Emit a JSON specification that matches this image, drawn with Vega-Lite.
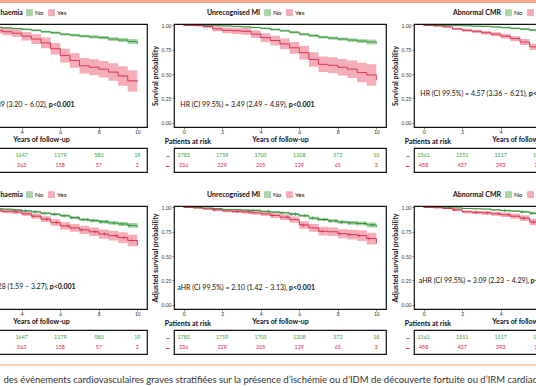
{
"$schema":"https://vega.github.io/schema/vega-lite/v6.json",
"padding":{"left":-67,"top":0,"right":-80,"bottom":0},
"background":"white",
"config":{
 "font":"Lato",
 "view":{"stroke":"#111","strokeWidth":1.2},
 "axis":{"labelFontSize":5,"labelColor":"#333","tickColor":"#333","tickSize":2,"tickWidth":0.6,"domain":false,"grid":false,"labelPadding":1,"labelFlush":false,"titleFontSize":7,"titleFontWeight":"bold","titleColor":"#111","titlePadding":3},
 "axisX":{"labelPadding":0,"titlePadding":1},
 "legend":{"titleFontSize":7,"titleFontWeight":"bold","titleColor":"#111","labelFontSize":6.5,"labelColor":"#111","symbolType":"square","symbolSize":36,"symbolStrokeWidth":0.6,"titlePadding":3,"columnPadding":3,"labelOffset":2,"padding":0},
 "title":{"font":"Lato","color":"#111"}
},
"datasets":{
"km":[
{"p":"L1","g":"No","t":0,"s":1,"lo":1,"hi":1},{"p":"L1","g":"No","t":0.5,"s":0.998,"lo":0.996,"hi":1},{"p":"L1","g":"No","t":1,"s":0.995,"lo":0.992,"hi":0.998},{"p":"L1","g":"No","t":1.5,"s":0.99,"lo":0.986,"hi":0.994},{"p":"L1","g":"No","t":2,"s":0.985,"lo":0.98,"hi":0.99},{"p":"L1","g":"No","t":2.5,"s":0.98,"lo":0.974,"hi":0.986},{"p":"L1","g":"No","t":3,"s":0.975,"lo":0.968,"hi":0.982},{"p":"L1","g":"No","t":3.5,"s":0.968,"lo":0.96,"hi":0.976},{"p":"L1","g":"No","t":4,"s":0.96,"lo":0.951,"hi":0.969},{"p":"L1","g":"No","t":4.5,"s":0.95,"lo":0.94,"hi":0.96},{"p":"L1","g":"No","t":5,"s":0.935,"lo":0.924,"hi":0.946},{"p":"L1","g":"No","t":5.5,"s":0.925,"lo":0.913,"hi":0.937},{"p":"L1","g":"No","t":6,"s":0.91,"lo":0.897,"hi":0.923},{"p":"L1","g":"No","t":6.5,"s":0.9,"lo":0.886,"hi":0.914},{"p":"L1","g":"No","t":7,"s":0.89,"lo":0.875,"hi":0.905},{"p":"L1","g":"No","t":7.5,"s":0.882,"lo":0.866,"hi":0.898},{"p":"L1","g":"No","t":8,"s":0.875,"lo":0.858,"hi":0.892},{"p":"L1","g":"No","t":8.5,"s":0.86,"lo":0.841,"hi":0.879},{"p":"L1","g":"No","t":9,"s":0.85,"lo":0.829,"hi":0.871},{"p":"L1","g":"No","t":9.5,"s":0.835,"lo":0.81,"hi":0.86},{"p":"L1","g":"No","t":10,"s":0.81,"lo":0.78,"hi":0.84},
{"p":"L1","g":"Yes","t":0,"s":1,"lo":1,"hi":1},{"p":"L1","g":"Yes","t":0.5,"s":0.99,"lo":0.98,"hi":1},{"p":"L1","g":"Yes","t":1,"s":0.98,"lo":0.965,"hi":0.995},{"p":"L1","g":"Yes","t":1.5,"s":0.97,"lo":0.945,"hi":0.995},{"p":"L1","g":"Yes","t":2,"s":0.96,"lo":0.93,"hi":0.99},{"p":"L1","g":"Yes","t":2.5,"s":0.95,"lo":0.918,"hi":0.982},{"p":"L1","g":"Yes","t":3,"s":0.935,"lo":0.9,"hi":0.97},{"p":"L1","g":"Yes","t":3.5,"s":0.92,"lo":0.88,"hi":0.96},{"p":"L1","g":"Yes","t":4,"s":0.89,"lo":0.845,"hi":0.935},{"p":"L1","g":"Yes","t":4.5,"s":0.86,"lo":0.81,"hi":0.91},{"p":"L1","g":"Yes","t":5,"s":0.82,"lo":0.765,"hi":0.875},{"p":"L1","g":"Yes","t":5.5,"s":0.76,"lo":0.7,"hi":0.82},{"p":"L1","g":"Yes","t":6,"s":0.69,"lo":0.62,"hi":0.76},{"p":"L1","g":"Yes","t":6.5,"s":0.64,"lo":0.565,"hi":0.715},{"p":"L1","g":"Yes","t":7,"s":0.585,"lo":0.505,"hi":0.665},{"p":"L1","g":"Yes","t":7.5,"s":0.57,"lo":0.488,"hi":0.652},{"p":"L1","g":"Yes","t":8,"s":0.55,"lo":0.465,"hi":0.635},{"p":"L1","g":"Yes","t":8.5,"s":0.52,"lo":0.43,"hi":0.61},{"p":"L1","g":"Yes","t":9,"s":0.48,"lo":0.38,"hi":0.58},{"p":"L1","g":"Yes","t":9.5,"s":0.43,"lo":0.32,"hi":0.54},{"p":"L1","g":"Yes","t":10,"s":0.42,"lo":0.29,"hi":0.55},
{"p":"M1","g":"No","t":0,"s":1,"lo":1,"hi":1},{"p":"M1","g":"No","t":0.5,"s":1,"lo":0.998,"hi":1},{"p":"M1","g":"No","t":1,"s":0.998,"lo":0.995,"hi":1},{"p":"M1","g":"No","t":1.5,"s":0.997,"lo":0.993,"hi":1},{"p":"M1","g":"No","t":2,"s":0.995,"lo":0.99,"hi":1},{"p":"M1","g":"No","t":2.5,"s":0.99,"lo":0.984,"hi":0.996},{"p":"M1","g":"No","t":3,"s":0.985,"lo":0.978,"hi":0.992},{"p":"M1","g":"No","t":3.5,"s":0.978,"lo":0.97,"hi":0.986},{"p":"M1","g":"No","t":4,"s":0.97,"lo":0.961,"hi":0.979},{"p":"M1","g":"No","t":4.5,"s":0.958,"lo":0.948,"hi":0.968},{"p":"M1","g":"No","t":5,"s":0.945,"lo":0.934,"hi":0.956},{"p":"M1","g":"No","t":5.5,"s":0.93,"lo":0.918,"hi":0.942},{"p":"M1","g":"No","t":6,"s":0.91,"lo":0.897,"hi":0.923},{"p":"M1","g":"No","t":6.5,"s":0.895,"lo":0.881,"hi":0.909},{"p":"M1","g":"No","t":7,"s":0.88,"lo":0.865,"hi":0.895},{"p":"M1","g":"No","t":7.5,"s":0.87,"lo":0.854,"hi":0.886},{"p":"M1","g":"No","t":8,"s":0.86,"lo":0.843,"hi":0.877},{"p":"M1","g":"No","t":8.5,"s":0.85,"lo":0.831,"hi":0.869},{"p":"M1","g":"No","t":9,"s":0.84,"lo":0.819,"hi":0.861},{"p":"M1","g":"No","t":9.5,"s":0.83,"lo":0.805,"hi":0.855},{"p":"M1","g":"No","t":10,"s":0.815,"lo":0.785,"hi":0.845},
{"p":"M1","g":"Yes","t":0,"s":1,"lo":1,"hi":1},{"p":"M1","g":"Yes","t":0.5,"s":1,"lo":0.99,"hi":1},{"p":"M1","g":"Yes","t":1,"s":0.99,"lo":0.975,"hi":1},{"p":"M1","g":"Yes","t":1.5,"s":0.965,"lo":0.94,"hi":0.99},{"p":"M1","g":"Yes","t":2,"s":0.95,"lo":0.92,"hi":0.98},{"p":"M1","g":"Yes","t":2.5,"s":0.945,"lo":0.913,"hi":0.977},{"p":"M1","g":"Yes","t":3,"s":0.94,"lo":0.905,"hi":0.975},{"p":"M1","g":"Yes","t":3.5,"s":0.91,"lo":0.87,"hi":0.95},{"p":"M1","g":"Yes","t":4,"s":0.875,"lo":0.83,"hi":0.92},{"p":"M1","g":"Yes","t":4.5,"s":0.845,"lo":0.795,"hi":0.895},{"p":"M1","g":"Yes","t":5,"s":0.81,"lo":0.755,"hi":0.865},{"p":"M1","g":"Yes","t":5.5,"s":0.77,"lo":0.71,"hi":0.83},{"p":"M1","g":"Yes","t":6,"s":0.72,"lo":0.65,"hi":0.79},{"p":"M1","g":"Yes","t":6.5,"s":0.65,"lo":0.575,"hi":0.725},{"p":"M1","g":"Yes","t":7,"s":0.6,"lo":0.52,"hi":0.68},{"p":"M1","g":"Yes","t":7.5,"s":0.59,"lo":0.508,"hi":0.672},{"p":"M1","g":"Yes","t":8,"s":0.57,"lo":0.485,"hi":0.655},{"p":"M1","g":"Yes","t":8.5,"s":0.55,"lo":0.46,"hi":0.64},{"p":"M1","g":"Yes","t":9,"s":0.515,"lo":0.415,"hi":0.615},{"p":"M1","g":"Yes","t":9.5,"s":0.49,"lo":0.38,"hi":0.6},{"p":"M1","g":"Yes","t":10,"s":0.44,"lo":0.31,"hi":0.6},
{"p":"R1","g":"No","t":0,"s":1,"lo":1,"hi":1},{"p":"R1","g":"No","t":0.5,"s":1,"lo":0.998,"hi":1},{"p":"R1","g":"No","t":1,"s":1,"lo":0.997,"hi":1},{"p":"R1","g":"No","t":1.5,"s":0.998,"lo":0.994,"hi":1},{"p":"R1","g":"No","t":2,"s":0.996,"lo":0.991,"hi":1},{"p":"R1","g":"No","t":2.5,"s":0.993,"lo":0.987,"hi":0.999},{"p":"R1","g":"No","t":3,"s":0.99,"lo":0.983,"hi":0.997},{"p":"R1","g":"No","t":3.5,"s":0.985,"lo":0.977,"hi":0.993},{"p":"R1","g":"No","t":4,"s":0.978,"lo":0.969,"hi":0.987},{"p":"R1","g":"No","t":4.5,"s":0.97,"lo":0.96,"hi":0.98},{"p":"R1","g":"No","t":5,"s":0.962,"lo":0.951,"hi":0.973},{"p":"R1","g":"No","t":5.5,"s":0.952,"lo":0.94,"hi":0.964},{"p":"R1","g":"No","t":6,"s":0.94,"lo":0.927,"hi":0.953},{"p":"R1","g":"No","t":6.5,"s":0.93,"lo":0.916,"hi":0.944},{"p":"R1","g":"No","t":7,"s":0.92,"lo":0.905,"hi":0.935},{"p":"R1","g":"No","t":7.5,"s":0.91,"lo":0.894,"hi":0.926},{"p":"R1","g":"No","t":8,"s":0.9,"lo":0.883,"hi":0.917},{"p":"R1","g":"No","t":8.5,"s":0.89,"lo":0.871,"hi":0.909},{"p":"R1","g":"No","t":9,"s":0.88,"lo":0.859,"hi":0.901},{"p":"R1","g":"No","t":9.5,"s":0.87,"lo":0.845,"hi":0.895},{"p":"R1","g":"No","t":10,"s":0.86,"lo":0.83,"hi":0.89},
{"p":"R1","g":"Yes","t":0,"s":1,"lo":1,"hi":1},{"p":"R1","g":"Yes","t":0.5,"s":0.995,"lo":0.99,"hi":1},{"p":"R1","g":"Yes","t":1,"s":0.985,"lo":0.977,"hi":0.993},{"p":"R1","g":"Yes","t":1.5,"s":0.965,"lo":0.953,"hi":0.977},{"p":"R1","g":"Yes","t":2,"s":0.95,"lo":0.935,"hi":0.965},{"p":"R1","g":"Yes","t":2.5,"s":0.94,"lo":0.923,"hi":0.957},{"p":"R1","g":"Yes","t":3,"s":0.925,"lo":0.906,"hi":0.944},{"p":"R1","g":"Yes","t":3.5,"s":0.91,"lo":0.889,"hi":0.931},{"p":"R1","g":"Yes","t":4,"s":0.89,"lo":0.866,"hi":0.914},{"p":"R1","g":"Yes","t":4.5,"s":0.865,"lo":0.838,"hi":0.892},{"p":"R1","g":"Yes","t":5,"s":0.83,"lo":0.8,"hi":0.86},{"p":"R1","g":"Yes","t":5.5,"s":0.78,"lo":0.747,"hi":0.813},{"p":"R1","g":"Yes","t":6,"s":0.72,"lo":0.682,"hi":0.758},{"p":"R1","g":"Yes","t":6.5,"s":0.7,"lo":0.66,"hi":0.74},{"p":"R1","g":"Yes","t":7,"s":0.68,"lo":0.637,"hi":0.723},{"p":"R1","g":"Yes","t":7.5,"s":0.665,"lo":0.62,"hi":0.71},{"p":"R1","g":"Yes","t":8,"s":0.65,"lo":0.603,"hi":0.697},{"p":"R1","g":"Yes","t":8.5,"s":0.635,"lo":0.585,"hi":0.685},{"p":"R1","g":"Yes","t":9,"s":0.62,"lo":0.565,"hi":0.675},{"p":"R1","g":"Yes","t":9.5,"s":0.6,"lo":0.54,"hi":0.66},{"p":"R1","g":"Yes","t":10,"s":0.58,"lo":0.51,"hi":0.65},
{"p":"L2","g":"No","t":0,"s":1,"lo":1,"hi":1},{"p":"L2","g":"No","t":0.5,"s":0.998,"lo":0.996,"hi":1},{"p":"L2","g":"No","t":1,"s":0.995,"lo":0.992,"hi":0.998},{"p":"L2","g":"No","t":1.5,"s":0.992,"lo":0.988,"hi":0.996},{"p":"L2","g":"No","t":2,"s":0.99,"lo":0.985,"hi":0.995},{"p":"L2","g":"No","t":2.5,"s":0.987,"lo":0.981,"hi":0.993},{"p":"L2","g":"No","t":3,"s":0.983,"lo":0.976,"hi":0.99},{"p":"L2","g":"No","t":3.5,"s":0.975,"lo":0.967,"hi":0.983},{"p":"L2","g":"No","t":4,"s":0.965,"lo":0.956,"hi":0.974},{"p":"L2","g":"No","t":4.5,"s":0.955,"lo":0.945,"hi":0.965},{"p":"L2","g":"No","t":5,"s":0.94,"lo":0.929,"hi":0.951},{"p":"L2","g":"No","t":5.5,"s":0.93,"lo":0.918,"hi":0.942},{"p":"L2","g":"No","t":6,"s":0.915,"lo":0.902,"hi":0.928},{"p":"L2","g":"No","t":6.5,"s":0.895,"lo":0.881,"hi":0.909},{"p":"L2","g":"No","t":7,"s":0.875,"lo":0.86,"hi":0.89},{"p":"L2","g":"No","t":7.5,"s":0.865,"lo":0.849,"hi":0.881},{"p":"L2","g":"No","t":8,"s":0.853,"lo":0.836,"hi":0.87},{"p":"L2","g":"No","t":8.5,"s":0.84,"lo":0.821,"hi":0.859},{"p":"L2","g":"No","t":9,"s":0.83,"lo":0.809,"hi":0.851},{"p":"L2","g":"No","t":9.5,"s":0.815,"lo":0.79,"hi":0.84},{"p":"L2","g":"No","t":10,"s":0.795,"lo":0.765,"hi":0.825},
{"p":"L2","g":"Yes","t":0,"s":1,"lo":1,"hi":1},{"p":"L2","g":"Yes","t":0.5,"s":0.995,"lo":0.99,"hi":1},{"p":"L2","g":"Yes","t":1,"s":0.99,"lo":0.982,"hi":0.998},{"p":"L2","g":"Yes","t":1.5,"s":0.985,"lo":0.973,"hi":0.997},{"p":"L2","g":"Yes","t":2,"s":0.978,"lo":0.963,"hi":0.993},{"p":"L2","g":"Yes","t":2.5,"s":0.97,"lo":0.953,"hi":0.987},{"p":"L2","g":"Yes","t":3,"s":0.96,"lo":0.941,"hi":0.979},{"p":"L2","g":"Yes","t":3.5,"s":0.955,"lo":0.934,"hi":0.976},{"p":"L2","g":"Yes","t":4,"s":0.935,"lo":0.911,"hi":0.959},{"p":"L2","g":"Yes","t":4.5,"s":0.91,"lo":0.883,"hi":0.937},{"p":"L2","g":"Yes","t":5,"s":0.88,"lo":0.85,"hi":0.91},{"p":"L2","g":"Yes","t":5.5,"s":0.845,"lo":0.812,"hi":0.878},{"p":"L2","g":"Yes","t":6,"s":0.81,"lo":0.772,"hi":0.848},{"p":"L2","g":"Yes","t":6.5,"s":0.79,"lo":0.75,"hi":0.83},{"p":"L2","g":"Yes","t":7,"s":0.77,"lo":0.727,"hi":0.813},{"p":"L2","g":"Yes","t":7.5,"s":0.75,"lo":0.705,"hi":0.795},{"p":"L2","g":"Yes","t":8,"s":0.726,"lo":0.679,"hi":0.773},{"p":"L2","g":"Yes","t":8.5,"s":0.71,"lo":0.66,"hi":0.76},{"p":"L2","g":"Yes","t":9,"s":0.69,"lo":0.635,"hi":0.745},{"p":"L2","g":"Yes","t":9.5,"s":0.66,"lo":0.6,"hi":0.72},{"p":"L2","g":"Yes","t":10,"s":0.61,"lo":0.54,"hi":0.68},
{"p":"M2","g":"No","t":0,"s":1,"lo":1,"hi":1},{"p":"M2","g":"No","t":0.5,"s":1,"lo":0.998,"hi":1},{"p":"M2","g":"No","t":1,"s":0.995,"lo":0.992,"hi":0.998},{"p":"M2","g":"No","t":1.5,"s":0.99,"lo":0.986,"hi":0.994},{"p":"M2","g":"No","t":2,"s":0.98,"lo":0.975,"hi":0.985},{"p":"M2","g":"No","t":2.5,"s":0.977,"lo":0.971,"hi":0.983},{"p":"M2","g":"No","t":3,"s":0.973,"lo":0.966,"hi":0.98},{"p":"M2","g":"No","t":3.5,"s":0.97,"lo":0.962,"hi":0.978},{"p":"M2","g":"No","t":4,"s":0.96,"lo":0.951,"hi":0.969},{"p":"M2","g":"No","t":4.5,"s":0.953,"lo":0.943,"hi":0.963},{"p":"M2","g":"No","t":5,"s":0.945,"lo":0.934,"hi":0.956},{"p":"M2","g":"No","t":5.5,"s":0.932,"lo":0.92,"hi":0.944},{"p":"M2","g":"No","t":6,"s":0.915,"lo":0.902,"hi":0.928},{"p":"M2","g":"No","t":6.5,"s":0.89,"lo":0.876,"hi":0.904},{"p":"M2","g":"No","t":7,"s":0.876,"lo":0.861,"hi":0.891},{"p":"M2","g":"No","t":7.5,"s":0.862,"lo":0.846,"hi":0.878},{"p":"M2","g":"No","t":8,"s":0.85,"lo":0.833,"hi":0.867},{"p":"M2","g":"No","t":8.5,"s":0.842,"lo":0.823,"hi":0.861},{"p":"M2","g":"No","t":9,"s":0.835,"lo":0.814,"hi":0.856},{"p":"M2","g":"No","t":9.5,"s":0.82,"lo":0.795,"hi":0.845},{"p":"M2","g":"No","t":10,"s":0.8,"lo":0.77,"hi":0.83},
{"p":"M2","g":"Yes","t":0,"s":1,"lo":1,"hi":1},{"p":"M2","g":"Yes","t":0.5,"s":0.995,"lo":0.99,"hi":1},{"p":"M2","g":"Yes","t":1,"s":0.985,"lo":0.977,"hi":0.993},{"p":"M2","g":"Yes","t":1.5,"s":0.975,"lo":0.963,"hi":0.987},{"p":"M2","g":"Yes","t":2,"s":0.965,"lo":0.95,"hi":0.98},{"p":"M2","g":"Yes","t":2.5,"s":0.96,"lo":0.943,"hi":0.977},{"p":"M2","g":"Yes","t":3,"s":0.955,"lo":0.936,"hi":0.974},{"p":"M2","g":"Yes","t":3.5,"s":0.945,"lo":0.924,"hi":0.966},{"p":"M2","g":"Yes","t":4,"s":0.935,"lo":0.911,"hi":0.959},{"p":"M2","g":"Yes","t":4.5,"s":0.918,"lo":0.891,"hi":0.945},{"p":"M2","g":"Yes","t":5,"s":0.9,"lo":0.87,"hi":0.93},{"p":"M2","g":"Yes","t":5.5,"s":0.875,"lo":0.842,"hi":0.908},{"p":"M2","g":"Yes","t":6,"s":0.82,"lo":0.782,"hi":0.858},{"p":"M2","g":"Yes","t":6.5,"s":0.79,"lo":0.75,"hi":0.83},{"p":"M2","g":"Yes","t":7,"s":0.755,"lo":0.712,"hi":0.798},{"p":"M2","g":"Yes","t":7.5,"s":0.75,"lo":0.705,"hi":0.795},{"p":"M2","g":"Yes","t":8,"s":0.73,"lo":0.683,"hi":0.777},{"p":"M2","g":"Yes","t":8.5,"s":0.72,"lo":0.67,"hi":0.77},{"p":"M2","g":"Yes","t":9,"s":0.71,"lo":0.655,"hi":0.765},{"p":"M2","g":"Yes","t":9.5,"s":0.68,"lo":0.62,"hi":0.74},{"p":"M2","g":"Yes","t":10,"s":0.63,"lo":0.56,"hi":0.7},
{"p":"R2","g":"No","t":0,"s":1,"lo":1,"hi":1},{"p":"R2","g":"No","t":0.5,"s":1,"lo":0.998,"hi":1},{"p":"R2","g":"No","t":1,"s":0.998,"lo":0.995,"hi":1},{"p":"R2","g":"No","t":1.5,"s":0.995,"lo":0.991,"hi":0.999},{"p":"R2","g":"No","t":2,"s":0.99,"lo":0.985,"hi":0.995},{"p":"R2","g":"No","t":2.5,"s":0.987,"lo":0.981,"hi":0.993},{"p":"R2","g":"No","t":3,"s":0.983,"lo":0.976,"hi":0.99},{"p":"R2","g":"No","t":3.5,"s":0.975,"lo":0.967,"hi":0.983},{"p":"R2","g":"No","t":4,"s":0.968,"lo":0.959,"hi":0.977},{"p":"R2","g":"No","t":4.5,"s":0.962,"lo":0.952,"hi":0.972},{"p":"R2","g":"No","t":5,"s":0.955,"lo":0.944,"hi":0.966},{"p":"R2","g":"No","t":5.5,"s":0.94,"lo":0.928,"hi":0.952},{"p":"R2","g":"No","t":6,"s":0.92,"lo":0.907,"hi":0.933},{"p":"R2","g":"No","t":6.5,"s":0.905,"lo":0.891,"hi":0.919},{"p":"R2","g":"No","t":7,"s":0.895,"lo":0.88,"hi":0.91},{"p":"R2","g":"No","t":7.5,"s":0.885,"lo":0.869,"hi":0.901},{"p":"R2","g":"No","t":8,"s":0.875,"lo":0.858,"hi":0.892},{"p":"R2","g":"No","t":8.5,"s":0.865,"lo":0.846,"hi":0.884},{"p":"R2","g":"No","t":9,"s":0.855,"lo":0.834,"hi":0.876},{"p":"R2","g":"No","t":9.5,"s":0.845,"lo":0.82,"hi":0.87},{"p":"R2","g":"No","t":10,"s":0.835,"lo":0.805,"hi":0.865},
{"p":"R2","g":"Yes","t":0,"s":1,"lo":1,"hi":1},{"p":"R2","g":"Yes","t":0.5,"s":0.997,"lo":0.992,"hi":1},{"p":"R2","g":"Yes","t":1,"s":0.99,"lo":0.982,"hi":0.998},{"p":"R2","g":"Yes","t":1.5,"s":0.975,"lo":0.963,"hi":0.987},{"p":"R2","g":"Yes","t":2,"s":0.955,"lo":0.94,"hi":0.97},{"p":"R2","g":"Yes","t":2.5,"s":0.95,"lo":0.933,"hi":0.967},{"p":"R2","g":"Yes","t":3,"s":0.945,"lo":0.926,"hi":0.964},{"p":"R2","g":"Yes","t":3.5,"s":0.935,"lo":0.914,"hi":0.956},{"p":"R2","g":"Yes","t":4,"s":0.925,"lo":0.901,"hi":0.949},{"p":"R2","g":"Yes","t":4.5,"s":0.91,"lo":0.883,"hi":0.937},{"p":"R2","g":"Yes","t":5,"s":0.89,"lo":0.86,"hi":0.92},{"p":"R2","g":"Yes","t":5.5,"s":0.85,"lo":0.817,"hi":0.883},{"p":"R2","g":"Yes","t":6,"s":0.79,"lo":0.752,"hi":0.828},{"p":"R2","g":"Yes","t":6.5,"s":0.77,"lo":0.73,"hi":0.81},{"p":"R2","g":"Yes","t":7,"s":0.75,"lo":0.707,"hi":0.793},{"p":"R2","g":"Yes","t":7.5,"s":0.735,"lo":0.69,"hi":0.78},{"p":"R2","g":"Yes","t":8,"s":0.72,"lo":0.673,"hi":0.767},{"p":"R2","g":"Yes","t":8.5,"s":0.705,"lo":0.655,"hi":0.755},{"p":"R2","g":"Yes","t":9,"s":0.69,"lo":0.635,"hi":0.745},{"p":"R2","g":"Yes","t":9.5,"s":0.675,"lo":0.615,"hi":0.735},{"p":"R2","g":"Yes","t":10,"s":0.66,"lo":0.59,"hi":0.73}
],
"cens":[
{"p":"L2","g":"No","t":3.6,"s":0.975},{"p":"L2","g":"No","t":4.2,"s":0.965},{"p":"L2","g":"No","t":4.7,"s":0.955},{"p":"L2","g":"No","t":5.2,"s":0.94},{"p":"L2","g":"No","t":5.7,"s":0.93},{"p":"L2","g":"No","t":6.2,"s":0.915},{"p":"L2","g":"No","t":6.6,"s":0.895},{"p":"L2","g":"No","t":6.9,"s":0.895},{"p":"L2","g":"No","t":7.2,"s":0.875},{"p":"L2","g":"No","t":7.4,"s":0.875},{"p":"L2","g":"No","t":7.7,"s":0.865},{"p":"L2","g":"No","t":8.1,"s":0.853},{"p":"L2","g":"No","t":8.4,"s":0.853},{"p":"L2","g":"No","t":8.8,"s":0.84},{"p":"L2","g":"No","t":9.2,"s":0.83},{"p":"L2","g":"No","t":9.6,"s":0.815},
{"p":"L2","g":"Yes","t":3.7,"s":0.955},{"p":"L2","g":"Yes","t":4.6,"s":0.91},{"p":"L2","g":"Yes","t":5.3,"s":0.88},{"p":"L2","g":"Yes","t":5.8,"s":0.845},{"p":"L2","g":"Yes","t":6.4,"s":0.81},{"p":"L2","g":"Yes","t":7.1,"s":0.77},{"p":"L2","g":"Yes","t":7.8,"s":0.75},{"p":"L2","g":"Yes","t":8.3,"s":0.726},{"p":"L2","g":"Yes","t":8.9,"s":0.71},{"p":"L2","g":"Yes","t":9.3,"s":0.69},{"p":"L2","g":"Yes","t":9.7,"s":0.66},
{"p":"M2","g":"No","t":3.6,"s":0.97},{"p":"M2","g":"No","t":4.4,"s":0.96},{"p":"M2","g":"No","t":5.1,"s":0.945},{"p":"M2","g":"No","t":5.6,"s":0.932},{"p":"M2","g":"No","t":5.8,"s":0.932},{"p":"M2","g":"No","t":6.3,"s":0.915},{"p":"M2","g":"No","t":6.7,"s":0.89},{"p":"M2","g":"No","t":7,"s":0.876},{"p":"M2","g":"No","t":7.3,"s":0.876},{"p":"M2","g":"No","t":7.6,"s":0.862},{"p":"M2","g":"No","t":7.9,"s":0.862},{"p":"M2","g":"No","t":8.2,"s":0.85},{"p":"M2","g":"No","t":8.6,"s":0.842},{"p":"M2","g":"No","t":9,"s":0.835},{"p":"M2","g":"No","t":9.4,"s":0.835},{"p":"M2","g":"No","t":9.8,"s":0.82},
{"p":"M2","g":"Yes","t":1.6,"s":0.975},{"p":"M2","g":"Yes","t":2.8,"s":0.96},{"p":"M2","g":"Yes","t":3.4,"s":0.955},{"p":"M2","g":"Yes","t":4.6,"s":0.918},{"p":"M2","g":"Yes","t":5.4,"s":0.9},{"p":"M2","g":"Yes","t":6.2,"s":0.82},{"p":"M2","g":"Yes","t":7.2,"s":0.755},{"p":"M2","g":"Yes","t":8.1,"s":0.73},{"p":"M2","g":"Yes","t":8.6,"s":0.72},{"p":"M2","g":"Yes","t":9.1,"s":0.71},{"p":"M2","g":"Yes","t":9.6,"s":0.68},
{"p":"R2","g":"No","t":4.2,"s":0.968},{"p":"R2","g":"No","t":5.1,"s":0.955},{"p":"R2","g":"No","t":5.6,"s":0.94},{"p":"R2","g":"No","t":5.9,"s":0.94},{"p":"R2","g":"No","t":6.3,"s":0.92},{"p":"R2","g":"No","t":6.7,"s":0.905},{"p":"R2","g":"No","t":7.2,"s":0.895},{"p":"R2","g":"No","t":7.7,"s":0.885},{"p":"R2","g":"No","t":8.3,"s":0.875},{"p":"R2","g":"No","t":8.8,"s":0.865},{"p":"R2","g":"No","t":9.3,"s":0.855},{"p":"R2","g":"No","t":9.8,"s":0.845},
{"p":"R2","g":"Yes","t":1.6,"s":0.975},{"p":"R2","g":"Yes","t":2.7,"s":0.95},{"p":"R2","g":"Yes","t":3.3,"s":0.945},{"p":"R2","g":"Yes","t":3.9,"s":0.935},{"p":"R2","g":"Yes","t":4.4,"s":0.925},{"p":"R2","g":"Yes","t":5.2,"s":0.89},{"p":"R2","g":"Yes","t":5.7,"s":0.85},{"p":"R2","g":"Yes","t":6.4,"s":0.79},{"p":"R2","g":"Yes","t":7.2,"s":0.75},{"p":"R2","g":"Yes","t":8.2,"s":0.72},{"p":"R2","g":"Yes","t":9.1,"s":0.69},{"p":"R2","g":"Yes","t":9.7,"s":0.675}
],
"risk":[
{"p":"L1","g":"No","t":0,"n":"1716"},{"p":"L1","g":"No","t":2,"n":"1699"},{"p":"L1","g":"No","t":4,"n":"1647"},{"p":"L1","g":"No","t":6,"n":"1179"},{"p":"L1","g":"No","t":8,"n":"580"},{"p":"L1","g":"No","t":10,"n":"19"},
{"p":"L1","g":"Yes","t":0,"n":"303"},{"p":"L1","g":"Yes","t":2,"n":"289"},{"p":"L1","g":"Yes","t":4,"n":"263"},{"p":"L1","g":"Yes","t":6,"n":"158"},{"p":"L1","g":"Yes","t":8,"n":"57"},{"p":"L1","g":"Yes","t":10,"n":"2"},
{"p":"M1","g":"No","t":0,"n":"1783"},{"p":"M1","g":"No","t":2,"n":"1759"},{"p":"M1","g":"No","t":4,"n":"1705"},{"p":"M1","g":"No","t":6,"n":"1208"},{"p":"M1","g":"No","t":8,"n":"572"},{"p":"M1","g":"No","t":10,"n":"10"},
{"p":"M1","g":"Yes","t":0,"n":"236"},{"p":"M1","g":"Yes","t":2,"n":"229"},{"p":"M1","g":"Yes","t":4,"n":"205"},{"p":"M1","g":"Yes","t":6,"n":"129"},{"p":"M1","g":"Yes","t":8,"n":"65"},{"p":"M1","g":"Yes","t":10,"n":"3"},
{"p":"R1","g":"No","t":0,"n":"1561"},{"p":"R1","g":"No","t":2,"n":"1551"},{"p":"R1","g":"No","t":4,"n":"1517"},{"p":"R1","g":"No","t":6,"n":"1094"},{"p":"R1","g":"No","t":8,"n":"536"},{"p":"R1","g":"No","t":10,"n":"14"},
{"p":"R1","g":"Yes","t":0,"n":"458"},{"p":"R1","g":"Yes","t":2,"n":"437"},{"p":"R1","g":"Yes","t":4,"n":"393"},{"p":"R1","g":"Yes","t":6,"n":"243"},{"p":"R1","g":"Yes","t":8,"n":"101"},{"p":"R1","g":"Yes","t":10,"n":"7"},
{"p":"L2","g":"No","t":0,"n":"1716"},{"p":"L2","g":"No","t":2,"n":"1699"},{"p":"L2","g":"No","t":4,"n":"1647"},{"p":"L2","g":"No","t":6,"n":"1179"},{"p":"L2","g":"No","t":8,"n":"580"},{"p":"L2","g":"No","t":10,"n":"19"},
{"p":"L2","g":"Yes","t":0,"n":"303"},{"p":"L2","g":"Yes","t":2,"n":"289"},{"p":"L2","g":"Yes","t":4,"n":"263"},{"p":"L2","g":"Yes","t":6,"n":"158"},{"p":"L2","g":"Yes","t":8,"n":"57"},{"p":"L2","g":"Yes","t":10,"n":"2"},
{"p":"M2","g":"No","t":0,"n":"1783"},{"p":"M2","g":"No","t":2,"n":"1759"},{"p":"M2","g":"No","t":4,"n":"1705"},{"p":"M2","g":"No","t":6,"n":"1208"},{"p":"M2","g":"No","t":8,"n":"572"},{"p":"M2","g":"No","t":10,"n":"18"},
{"p":"M2","g":"Yes","t":0,"n":"236"},{"p":"M2","g":"Yes","t":2,"n":"229"},{"p":"M2","g":"Yes","t":4,"n":"205"},{"p":"M2","g":"Yes","t":6,"n":"129"},{"p":"M2","g":"Yes","t":8,"n":"65"},{"p":"M2","g":"Yes","t":10,"n":"3"},
{"p":"R2","g":"No","t":0,"n":"1561"},{"p":"R2","g":"No","t":2,"n":"1551"},{"p":"R2","g":"No","t":4,"n":"1517"},{"p":"R2","g":"No","t":6,"n":"1094"},{"p":"R2","g":"No","t":8,"n":"536"},{"p":"R2","g":"No","t":10,"n":"14"},
{"p":"R2","g":"Yes","t":0,"n":"458"},{"p":"R2","g":"Yes","t":2,"n":"437"},{"p":"R2","g":"Yes","t":4,"n":"393"},{"p":"R2","g":"Yes","t":6,"n":"243"},{"p":"R2","g":"Yes","t":8,"n":"101"},{"p":"R2","g":"Yes","t":10,"n":"7"}
],
"ann":[
{"p":"L1","t":5.4,"s":0.18,"pre":"HR (CI 99.5%) = 4.39 (3.20 – 6.02),","pv":"p<0.001"},
{"p":"M1","t":5.45,"s":0.18,"pre":"HR (CI 99.5%) = 3.49 (2.49 – 4.89),","pv":"p<0.001"},
{"p":"R1","t":5.45,"s":0.29,"pre":"HR (CI 99.5%) = 4.57 (3.36 – 6.21),","pv":"p<0.001"},
{"p":"L2","t":5.45,"s":0.18,"pre":"aHR (CI 99.5%) = 2.28 (1.59 – 3.27),","pv":"p<0.001"},
{"p":"M2","t":5.47,"s":0.17,"pre":"aHR (CI 99.5%) = 2.10 (1.42 – 3.13),","pv":"p<0.001"},
{"p":"R2","t":5.55,"s":0.24,"pre":"aHR (CI 99.5%) = 3.09 (2.23 – 4.29),","pv":"p<0.001"}
]
},
"resolve":{"scale":{"x":"independent","y":"independent","color":"independent","stroke":"independent"},"legend":{"color":"independent"}},
"spacing":5,
"vconcat":[
{"width":700,"height":3,"view":{"stroke":null},"data":{"values":[{"k":1}]},"mark":{"type":"rule","color":"#f4aa8c","strokeWidth":3},"encoding":{"y":{"datum":0.5,"type":"quantitative","scale":{"domain":[0,1]},"axis":null}}},
{"spacing":17,
 "resolve":{"scale":{"x":"independent","y":"independent","color":"independent","stroke":"independent"},"legend":{"color":"independent"}},
 "vconcat":[
 {"spacing":2,"resolve":{"scale":{"x":"independent","y":"independent","color":"independent","stroke":"independent"},"legend":{"color":"independent"}},
  "hconcat":[
  {"spacing":21,"bounds":"flush","resolve":{"scale":{"x":"independent","y":"independent","color":"independent","stroke":"independent"},"legend":{"color":"independent"}},
   "vconcat":[
   {"width":212,"height":103,
    "encoding":{"x":{"field":"t","type":"quantitative","title":"Years of follow-up","scale":{"domain":[-0.5,10.5],"nice":false,"zero":false},"axis":{"values":[0,2,4,6,8,10]}},
                "y":{"field":"s","type":"quantitative","title":"Survival probability","scale":{"domain":[-0.045,1.015],"nice":false,"zero":false},"axis":null}},
    "layer":[
     {"data":{"name":"km"},"transform":[{"filter":"datum.p==='L1'"}],"mark":{"type":"area","interpolate":"step-after","opacity":0.5},
      "encoding":{"y":{"field":"lo","type":"quantitative","title":"Survival probability","scale":{"domain":[-0.045,1.015],"nice":false,"zero":false},"axis":null},"y2":{"field":"hi"},
        "color":{"field":"g","type":"nominal","scale":{"domain":["No","Yes"],"range":["#52b152","#ec5b76"]},"legend":{"title":"Inducible ischaemia","orient":"none","legendX":27,"legendY":-15,"direction":"horizontal","titleOrient":"left"}}}},
     {"data":{"name":"km"},"transform":[{"filter":"datum.p==='L1'"}],"mark":{"type":"line","interpolate":"step-after","strokeWidth":0.9},
      "encoding":{"stroke":{"field":"g","type":"nominal","scale":{"domain":["No","Yes"],"range":["#2d8a37","#d42a46"]},"legend":null}}},
     {"data":{"name":"ann"},"transform":[{"filter":"datum.p==='L1'"}],"mark":{"type":"text","align":"right","dx":-1.5,"fontSize":7,"color":"#111"},
      "encoding":{"text":{"field":"pre"}}},
     {"data":{"name":"ann"},"transform":[{"filter":"datum.p==='L1'"}],"mark":{"type":"text","align":"left","fontSize":7,"fontWeight":"bold","color":"#111"},
      "encoding":{"text":{"field":"pv"}}}
    ]},
   {"width":212,"height":24,"data":{"name":"risk"},"transform":[{"filter":"datum.p==='L1'"}],
    "title":{"text":"Patients at risk","anchor":"start","fontSize":7,"fontWeight":"bold","offset":3},
    "mark":{"type":"text","fontSize":5.4},
    "encoding":{"x":{"field":"t","type":"quantitative","scale":{"domain":[-0.5,10.5],"nice":false,"zero":false},"axis":null},
      "y":{"field":"g","type":"nominal","scale":{"type":"point","domain":["No","Yes"],"padding":0.7},"axis":null},
      "text":{"field":"n","type":"nominal"},
      "color":{"field":"g","type":"nominal","scale":{"domain":["No","Yes"],"range":["#36a03a","#e4203f"]},"legend":null}}}
   ]},
  {"spacing":3,"resolve":{"scale":{"x":"independent","y":"independent","color":"independent","stroke":"independent"},"legend":{"color":"independent"}},
   "hconcat":[
   {"spacing":21,"bounds":"flush","resolve":{"scale":{"x":"independent","y":"independent","color":"independent","stroke":"independent"},"legend":{"color":"independent"}},
    "vconcat":[
    {"width":212,"height":103,
     "encoding":{"x":{"field":"t","type":"quantitative","title":"Years of follow-up","scale":{"domain":[-0.5,10.5],"nice":false,"zero":false},"axis":{"values":[0,2,4,6,8,10]}},
                 "y":{"field":"s","type":"quantitative","title":"Survival probability","scale":{"domain":[-0.045,1.015],"nice":false,"zero":false},"axis":{"values":[0,0.25,0.5,0.75,1],"format":".2f"}}},
     "layer":[
      {"data":{"name":"km"},"transform":[{"filter":"datum.p==='M1'"}],"mark":{"type":"area","interpolate":"step-after","opacity":0.5},
       "encoding":{"y":{"field":"lo","type":"quantitative","title":"Survival probability","scale":{"domain":[-0.045,1.015],"nice":false,"zero":false},"axis":{"values":[0,0.25,0.5,0.75,1],"format":".2f"}},"y2":{"field":"hi"},
         "color":{"field":"g","type":"nominal","scale":{"domain":["No","Yes"],"range":["#52b152","#ec5b76"]},"legend":{"title":"Unrecognised MI","orient":"none","legendX":33,"legendY":-15,"direction":"horizontal","titleOrient":"left"}}}},
      {"data":{"name":"km"},"transform":[{"filter":"datum.p==='M1'"}],"mark":{"type":"line","interpolate":"step-after","strokeWidth":0.9},
       "encoding":{"stroke":{"field":"g","type":"nominal","scale":{"domain":["No","Yes"],"range":["#2d8a37","#d42a46"]},"legend":null}}},
      {"data":{"name":"ann"},"transform":[{"filter":"datum.p==='M1'"}],"mark":{"type":"text","align":"right","dx":-1.5,"fontSize":7,"color":"#111"},
       "encoding":{"text":{"field":"pre"}}},
      {"data":{"name":"ann"},"transform":[{"filter":"datum.p==='M1'"}],"mark":{"type":"text","align":"left","fontSize":7,"fontWeight":"bold","color":"#111"},
       "encoding":{"text":{"field":"pv"}}}
     ]},
    {"width":212,"height":24,"data":{"name":"risk"},"transform":[{"filter":"datum.p==='M1'"}],
     "title":{"text":"Patients at risk","anchor":"start","fontSize":7,"fontWeight":"bold","offset":3},
     "mark":{"type":"text","fontSize":5.4},
     "encoding":{"x":{"field":"t","type":"quantitative","scale":{"domain":[-0.5,10.5],"nice":false,"zero":false},"axis":null},
       "y":{"field":"g","type":"nominal","scale":{"type":"point","domain":["No","Yes"],"padding":0.7},"axis":{"title":null,"domain":false,"ticks":false,"labelExpr":"'–'","labelFontSize":9,"labelFontWeight":"bold","labelPadding":4,"labelColor":{"condition":{"test":"datum.value === 'No'","value":"#36a03a"},"value":"#e4203f"}}},
       "text":{"field":"n","type":"nominal"},
       "color":{"field":"g","type":"nominal","scale":{"domain":["No","Yes"],"range":["#36a03a","#e4203f"]},"legend":null}}}
    ]},
   {"spacing":21,"bounds":"flush","resolve":{"scale":{"x":"independent","y":"independent","color":"independent","stroke":"independent"},"legend":{"color":"independent"}},
    "vconcat":[
    {"width":212,"height":103,
     "encoding":{"x":{"field":"t","type":"quantitative","title":"Years of follow-up","scale":{"domain":[-0.5,10.5],"nice":false,"zero":false},"axis":{"values":[0,2,4,6,8,10]}},
                 "y":{"field":"s","type":"quantitative","title":"Survival probability","scale":{"domain":[-0.045,1.015],"nice":false,"zero":false},"axis":{"values":[0,0.25,0.5,0.75,1],"format":".2f"}}},
     "layer":[
      {"data":{"name":"km"},"transform":[{"filter":"datum.p==='R1'"}],"mark":{"type":"area","interpolate":"step-after","opacity":0.5},
       "encoding":{"y":{"field":"lo","type":"quantitative","title":"Survival probability","scale":{"domain":[-0.045,1.015],"nice":false,"zero":false},"axis":{"values":[0,0.25,0.5,0.75,1],"format":".2f"}},"y2":{"field":"hi"},
         "color":{"field":"g","type":"nominal","scale":{"domain":["No","Yes"],"range":["#52b152","#ec5b76"]},"legend":{"title":"Abnormal CMR","orient":"none","legendX":39,"legendY":-15,"direction":"horizontal","titleOrient":"left"}}}},
      {"data":{"name":"km"},"transform":[{"filter":"datum.p==='R1'"}],"mark":{"type":"line","interpolate":"step-after","strokeWidth":0.9},
       "encoding":{"stroke":{"field":"g","type":"nominal","scale":{"domain":["No","Yes"],"range":["#2d8a37","#d42a46"]},"legend":null}}},
      {"data":{"name":"ann"},"transform":[{"filter":"datum.p==='R1'"}],"mark":{"type":"text","align":"right","dx":-1.5,"fontSize":7,"color":"#111"},
       "encoding":{"text":{"field":"pre"}}},
      {"data":{"name":"ann"},"transform":[{"filter":"datum.p==='R1'"}],"mark":{"type":"text","align":"left","fontSize":7,"fontWeight":"bold","color":"#111"},
       "encoding":{"text":{"field":"pv"}}}
     ]},
    {"width":212,"height":24,"data":{"name":"risk"},"transform":[{"filter":"datum.p==='R1'"}],
     "title":{"text":"Patients at risk","anchor":"start","fontSize":7,"fontWeight":"bold","offset":3},
     "mark":{"type":"text","fontSize":5.4},
     "encoding":{"x":{"field":"t","type":"quantitative","scale":{"domain":[-0.5,10.5],"nice":false,"zero":false},"axis":null},
       "y":{"field":"g","type":"nominal","scale":{"type":"point","domain":["No","Yes"],"padding":0.7},"axis":{"title":null,"domain":false,"ticks":false,"labelExpr":"'–'","labelFontSize":9,"labelFontWeight":"bold","labelPadding":4,"labelColor":{"condition":{"test":"datum.value === 'No'","value":"#36a03a"},"value":"#e4203f"}}},
       "text":{"field":"n","type":"nominal"},
       "color":{"field":"g","type":"nominal","scale":{"domain":["No","Yes"],"range":["#36a03a","#e4203f"]},"legend":null}}}
    ]}
   ]}
  ]},
 {"spacing":9,
  "resolve":{"scale":{"x":"independent","y":"independent","color":"independent","stroke":"independent"},"legend":{"color":"independent"}},
  "vconcat":[
  {"spacing":2,"resolve":{"scale":{"x":"independent","y":"independent","color":"independent","stroke":"independent"},"legend":{"color":"independent"}},
   "hconcat":[
   {"spacing":21,"bounds":"flush","resolve":{"scale":{"x":"independent","y":"independent","color":"independent","stroke":"independent"},"legend":{"color":"independent"}},
    "vconcat":[
    {"width":212,"height":103,
     "encoding":{"x":{"field":"t","type":"quantitative","title":"Years of follow-up","scale":{"domain":[-0.5,10.5],"nice":false,"zero":false},"axis":{"values":[0,2,4,6,8,10]}},
                 "y":{"field":"s","type":"quantitative","title":"Adjusted survival probability","scale":{"domain":[-0.045,1.015],"nice":false,"zero":false},"axis":null}},
     "layer":[
      {"data":{"name":"km"},"transform":[{"filter":"datum.p==='L2'"}],"mark":{"type":"area","interpolate":"step-after","opacity":0.5},
       "encoding":{"y":{"field":"lo","type":"quantitative","title":"Adjusted survival probability","scale":{"domain":[-0.045,1.015],"nice":false,"zero":false},"axis":null},"y2":{"field":"hi"},
         "color":{"field":"g","type":"nominal","scale":{"domain":["No","Yes"],"range":["#52b152","#ec5b76"]},"legend":{"title":"Inducible ischaemia","orient":"none","legendX":27,"legendY":-15,"direction":"horizontal","titleOrient":"left"}}}},
      {"data":{"name":"km"},"transform":[{"filter":"datum.p==='L2'"}],"mark":{"type":"line","interpolate":"step-after","strokeWidth":0.9},
       "encoding":{"stroke":{"field":"g","type":"nominal","scale":{"domain":["No","Yes"],"range":["#2d8a37","#d42a46"]},"legend":null}}},
      {"data":{"name":"cens"},"transform":[{"filter":"datum.p==='L2'"}],"mark":{"type":"point","shape":"M-1,0L1,0M0,-1L0,1","filled":false,"size":14,"strokeWidth":0.7},
       "encoding":{"stroke":{"field":"g","type":"nominal","scale":{"domain":["No","Yes"],"range":["#2d8a37","#d42a46"]},"legend":null}}},
      {"data":{"name":"ann"},"transform":[{"filter":"datum.p==='L2'"}],"mark":{"type":"text","align":"right","dx":-1.5,"fontSize":7,"color":"#111"},
       "encoding":{"text":{"field":"pre"}}},
      {"data":{"name":"ann"},"transform":[{"filter":"datum.p==='L2'"}],"mark":{"type":"text","align":"left","fontSize":7,"fontWeight":"bold","color":"#111"},
       "encoding":{"text":{"field":"pv"}}}
     ]},
    {"width":212,"height":24,"data":{"name":"risk"},"transform":[{"filter":"datum.p==='L2'"}],
     "title":{"text":"Patients at risk","anchor":"start","fontSize":7,"fontWeight":"bold","offset":3},
     "mark":{"type":"text","fontSize":5.4},
     "encoding":{"x":{"field":"t","type":"quantitative","scale":{"domain":[-0.5,10.5],"nice":false,"zero":false},"axis":null},
       "y":{"field":"g","type":"nominal","scale":{"type":"point","domain":["No","Yes"],"padding":0.7},"axis":null},
       "text":{"field":"n","type":"nominal"},
       "color":{"field":"g","type":"nominal","scale":{"domain":["No","Yes"],"range":["#36a03a","#e4203f"]},"legend":null}}}
    ]},
   {"spacing":3,"resolve":{"scale":{"x":"independent","y":"independent","color":"independent","stroke":"independent"},"legend":{"color":"independent"}},
    "hconcat":[
    {"spacing":21,"bounds":"flush","resolve":{"scale":{"x":"independent","y":"independent","color":"independent","stroke":"independent"},"legend":{"color":"independent"}},
     "vconcat":[
     {"width":212,"height":103,
      "encoding":{"x":{"field":"t","type":"quantitative","title":"Years of follow-up","scale":{"domain":[-0.5,10.5],"nice":false,"zero":false},"axis":{"values":[0,2,4,6,8,10]}},
                  "y":{"field":"s","type":"quantitative","title":"Adjusted survival probability","scale":{"domain":[-0.045,1.015],"nice":false,"zero":false},"axis":{"values":[0,0.25,0.5,0.75,1],"format":".2f"}}},
      "layer":[
       {"data":{"name":"km"},"transform":[{"filter":"datum.p==='M2'"}],"mark":{"type":"area","interpolate":"step-after","opacity":0.5},
        "encoding":{"y":{"field":"lo","type":"quantitative","title":"Adjusted survival probability","scale":{"domain":[-0.045,1.015],"nice":false,"zero":false},"axis":{"values":[0,0.25,0.5,0.75,1],"format":".2f"}},"y2":{"field":"hi"},
          "color":{"field":"g","type":"nominal","scale":{"domain":["No","Yes"],"range":["#52b152","#ec5b76"]},"legend":{"title":"Unrecognised MI","orient":"none","legendX":33,"legendY":-15,"direction":"horizontal","titleOrient":"left"}}}},
       {"data":{"name":"km"},"transform":[{"filter":"datum.p==='M2'"}],"mark":{"type":"line","interpolate":"step-after","strokeWidth":0.9},
        "encoding":{"stroke":{"field":"g","type":"nominal","scale":{"domain":["No","Yes"],"range":["#2d8a37","#d42a46"]},"legend":null}}},
       {"data":{"name":"cens"},"transform":[{"filter":"datum.p==='M2'"}],"mark":{"type":"point","shape":"M-1,0L1,0M0,-1L0,1","filled":false,"size":14,"strokeWidth":0.7},
        "encoding":{"stroke":{"field":"g","type":"nominal","scale":{"domain":["No","Yes"],"range":["#2d8a37","#d42a46"]},"legend":null}}},
       {"data":{"name":"ann"},"transform":[{"filter":"datum.p==='M2'"}],"mark":{"type":"text","align":"right","dx":-1.5,"fontSize":7,"color":"#111"},
        "encoding":{"text":{"field":"pre"}}},
       {"data":{"name":"ann"},"transform":[{"filter":"datum.p==='M2'"}],"mark":{"type":"text","align":"left","fontSize":7,"fontWeight":"bold","color":"#111"},
        "encoding":{"text":{"field":"pv"}}}
      ]},
     {"width":212,"height":24,"data":{"name":"risk"},"transform":[{"filter":"datum.p==='M2'"}],
      "title":{"text":"Patients at risk","anchor":"start","fontSize":7,"fontWeight":"bold","offset":3},
      "mark":{"type":"text","fontSize":5.4},
      "encoding":{"x":{"field":"t","type":"quantitative","scale":{"domain":[-0.5,10.5],"nice":false,"zero":false},"axis":null},
        "y":{"field":"g","type":"nominal","scale":{"type":"point","domain":["No","Yes"],"padding":0.7},"axis":{"title":null,"domain":false,"ticks":false,"labelExpr":"'–'","labelFontSize":9,"labelFontWeight":"bold","labelPadding":4,"labelColor":{"condition":{"test":"datum.value === 'No'","value":"#36a03a"},"value":"#e4203f"}}},
        "text":{"field":"n","type":"nominal"},
        "color":{"field":"g","type":"nominal","scale":{"domain":["No","Yes"],"range":["#36a03a","#e4203f"]},"legend":null}}}
     ]},
    {"spacing":21,"bounds":"flush","resolve":{"scale":{"x":"independent","y":"independent","color":"independent","stroke":"independent"},"legend":{"color":"independent"}},
     "vconcat":[
     {"width":212,"height":103,
      "encoding":{"x":{"field":"t","type":"quantitative","title":"Years of follow-up","scale":{"domain":[-0.5,10.5],"nice":false,"zero":false},"axis":{"values":[0,2,4,6,8,10]}},
                  "y":{"field":"s","type":"quantitative","title":"Adjusted survival probability","scale":{"domain":[-0.045,1.015],"nice":false,"zero":false},"axis":{"values":[0,0.25,0.5,0.75,1],"format":".2f"}}},
      "layer":[
       {"data":{"name":"km"},"transform":[{"filter":"datum.p==='R2'"}],"mark":{"type":"area","interpolate":"step-after","opacity":0.5},
        "encoding":{"y":{"field":"lo","type":"quantitative","title":"Adjusted survival probability","scale":{"domain":[-0.045,1.015],"nice":false,"zero":false},"axis":{"values":[0,0.25,0.5,0.75,1],"format":".2f"}},"y2":{"field":"hi"},
          "color":{"field":"g","type":"nominal","scale":{"domain":["No","Yes"],"range":["#52b152","#ec5b76"]},"legend":{"title":"Abnormal CMR","orient":"none","legendX":39,"legendY":-15,"direction":"horizontal","titleOrient":"left"}}}},
       {"data":{"name":"km"},"transform":[{"filter":"datum.p==='R2'"}],"mark":{"type":"line","interpolate":"step-after","strokeWidth":0.9},
        "encoding":{"stroke":{"field":"g","type":"nominal","scale":{"domain":["No","Yes"],"range":["#2d8a37","#d42a46"]},"legend":null}}},
       {"data":{"name":"cens"},"transform":[{"filter":"datum.p==='R2'"}],"mark":{"type":"point","shape":"M-1,0L1,0M0,-1L0,1","filled":false,"size":14,"strokeWidth":0.7},
        "encoding":{"stroke":{"field":"g","type":"nominal","scale":{"domain":["No","Yes"],"range":["#2d8a37","#d42a46"]},"legend":null}}},
       {"data":{"name":"ann"},"transform":[{"filter":"datum.p==='R2'"}],"mark":{"type":"text","align":"right","dx":-1.5,"fontSize":7,"color":"#111"},
        "encoding":{"text":{"field":"pre"}}},
       {"data":{"name":"ann"},"transform":[{"filter":"datum.p==='R2'"}],"mark":{"type":"text","align":"left","fontSize":7,"fontWeight":"bold","color":"#111"},
        "encoding":{"text":{"field":"pv"}}}
      ]},
     {"width":212,"height":24,"data":{"name":"risk"},"transform":[{"filter":"datum.p==='R2'"}],
      "title":{"text":"Patients at risk","anchor":"start","fontSize":7,"fontWeight":"bold","offset":3},
      "mark":{"type":"text","fontSize":5.4},
      "encoding":{"x":{"field":"t","type":"quantitative","scale":{"domain":[-0.5,10.5],"nice":false,"zero":false},"axis":null},
        "y":{"field":"g","type":"nominal","scale":{"type":"point","domain":["No","Yes"],"padding":0.7},"axis":{"title":null,"domain":false,"ticks":false,"labelExpr":"'–'","labelFontSize":9,"labelFontWeight":"bold","labelPadding":4,"labelColor":{"condition":{"test":"datum.value === 'No'","value":"#36a03a"},"value":"#e4203f"}}},
        "text":{"field":"n","type":"nominal"},
        "color":{"field":"g","type":"nominal","scale":{"domain":["No","Yes"],"range":["#36a03a","#e4203f"]},"legend":null}}}
     ]}
    ]}
   ]},
  {"width":700,"height":1,"view":{"stroke":null},"data":{"values":[{"k":1}]},
   "mark":{"type":"rule","color":"#f0a282","strokeWidth":1.2},
   "encoding":{"y":{"datum":0,"type":"quantitative","scale":{"domain":[0,1]},"axis":null}},
   "title":{"text":"des événements cardiovasculaires graves stratifiées sur la présence d’ischémie ou d’IDM de découverte fortuite ou d’IRM cardiaque","orient":"bottom","anchor":"start","dx":69,"offset":9,"font":"Lato","fontSize":9.5,"fontWeight":"normal","color":"#333"}}
  ]}
 ]}
]
}
